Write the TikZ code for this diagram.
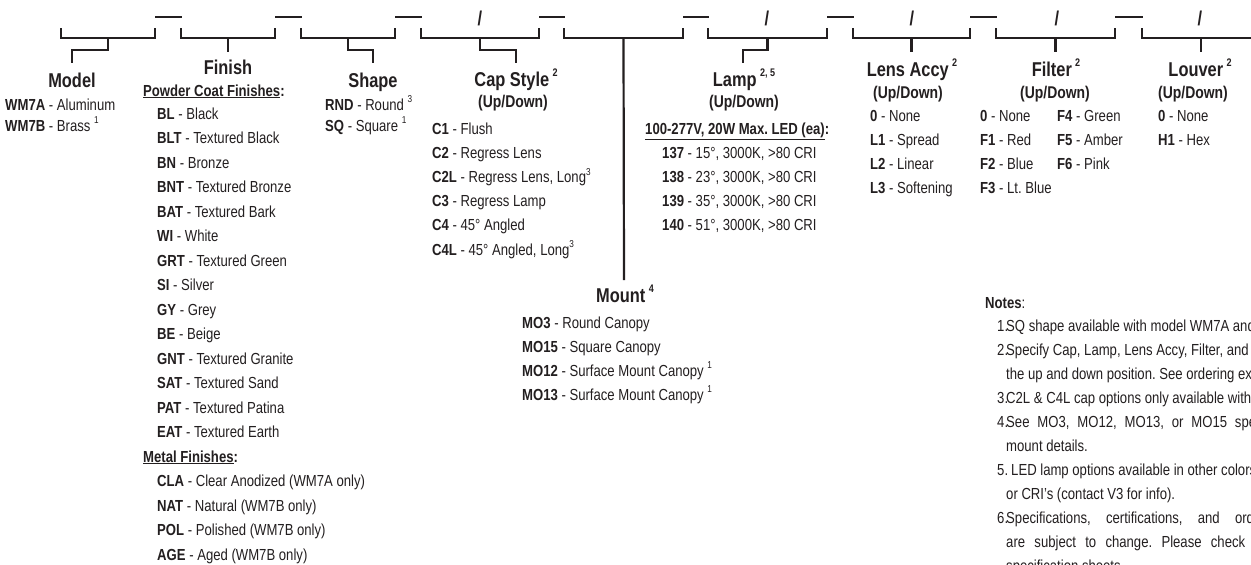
\documentclass[tikz,border=0pt]{standalone}
\usepackage{fontspec}
\setmainfont[FakeStretch=0.82]{Liberation Sans}
\definecolor{ink}{HTML}{231F20}
\newcommand{\supnum}[1]{\raisebox{0.45em}{\fontsize{10}{10}\selectfont\mdseries #1}}
\newcommand{\hsup}[1]{\raisebox{0.5em}{\fontsize{11}{11}\selectfont\bfseries #1}}
\newcommand{\itm}[2]{\textbf{#1} - #2}
\newcommand{\undl}[1]{\underline{#1}}
\frenchspacing
\begin{document}
\begin{tikzpicture}[x=1pt,y=-1pt,
  brk/.style={draw=ink, line width=2.6pt},
  sepline/.style={draw=ink, line width=2.6pt},
  stem/.style={draw=ink, line width=2.2pt},
  head/.style={font=\fontsize{20}{24}\selectfont\bfseries, text=ink, inner sep=0pt, anchor=base},
  updown/.style={font=\fontsize{17}{20}\selectfont\bfseries, text=ink, inner sep=0pt, anchor=base},
  item/.style={font=\fontsize{16}{20}\selectfont, text=ink, inner sep=0pt, anchor=base west},
  slashmark/.style={font=\fontsize{20}{20}\selectfont\bfseries, text=ink, inner sep=0pt}
]
\useasboundingbox (0,0) rectangle (1251,565);
\clip (0,0) rectangle (1251,565);
\fill[white] (0,0) rectangle (1251,565);

% brackets
\foreach \n/\a/\b in {1/61/155, 2/181/275, 3/301/395, 4/421/539, 5/564/683, 6/708/827, 7/853/970, 8/996/1115, 9/1142/1260} {
  \draw[brk] (\a,28) |- (\b,38) -- (\b,28);
  \coordinate (b\n) at ({(\a+\b)/2},38);
  \coordinate (L\n) at (\a+1,17);
  \coordinate (R\n) at (\b,17);
}
% separators
\draw[sepline] (R1) -- (L2);
\draw[sepline] (R2) -- (L3);
\draw[sepline] (R3) -- (L4);
\draw[sepline] (R4) -- (L5);
\draw[sepline] (R5) -- (L6);
\draw[sepline] (R6) -- (L7);
\draw[sepline] (R7) -- (L8);
\draw[sepline] (R8) -- (L9);
% slashes
\node[slashmark] (sl4) at (480,18) {/};
\node[slashmark] (sl6) at (767,18) {/};
\node[slashmark] (sl7) at (912,18) {/};
\node[slashmark] (sl8) at (1057,18) {/};
\node[slashmark] (sl9) at (1200,18) {/};

% stem ends
\coordinate (s1) at (72,63);
\coordinate (s2) at (228,52);
\coordinate (s3) at (373,63);
\coordinate (s4) at (516,63);
\coordinate (s5) at (624,280);
\coordinate (s6) at (743,63);
\coordinate (s7) at (911.5,52);
\coordinate (s8) at (1055.5,52);
\coordinate (s9) at (1201,52);
\draw[stem] (b1) -- ++(0,12) -| (s1);
\draw[stem] (b2) -- (s2);
\draw[stem] (b3) -- ++(0,12) -| (s3);
\draw[stem] (b4) -- ++(0,12) -| (s4);
\draw[stem] (b5) -- (s5);
\draw[stem] (b6) -- ++(0,12) -| (s6);
\draw[stem] (b7) -- (s7);
\draw[stem] (b8) -- (s8);
\draw[stem] (b9) -- (s9);

% headers
\node[head] (model)  at (72,87)  {Model};
\node[head] (finish) at (228,74) {Finish};
\node[head] (shape)  at (373,87) {Shape};
\node[head] (cap)    at (516,86) {Cap Style\,\hsup{2}};
\node[head] (mount)  at (625,302) {Mount\,\hsup{4}};
\node[head] (lamp)   at (744,86) {Lamp\,\hsup{2, 5}};
\node[head] (lens)   at (912,76) {Lens Accy\,\hsup{2}};
\node[head] (filter) at (1056,76) {Filter\,\hsup{2}};
\node[head] (louver) at (1200,76) {Louver\,\hsup{2}};

\node[updown] (capud)    at (513,107) {(Up/Down)};
\node[updown] (lampud)   at (744,107) {(Up/Down)};
\node[updown] (lensud)   at (908,98)  {(Up/Down)};
\node[updown] (filterud) at (1055,98) {(Up/Down)};
\node[updown] (louverud) at (1193,98) {(Up/Down)};

% Model
\node[item] (mo1) at (5,110) {\itm{WM7A}{Aluminum}};
\node[item] (mo2) at (5,131) {\itm{WM7B}{Brass \supnum{1}}};
% Shape
\node[item] (sh1) at (325,110) {\itm{RND}{Round \supnum{3}}};
\node[item] (sh2) at (325,131) {\itm{SQ}{Square \supnum{1}}};

% Finish
\node[item] (powder) at (143,96) {\textbf{\undl{Powder Coat Finishes}:}};
\foreach \c/\t [count=\i from 0] in {BL/Black, BLT/Textured Black, BN/Bronze, BNT/Textured Bronze, BAT/Textured Bark, WI/White, GRT/Textured Green, SI/Silver, GY/Grey, BE/Beige, GNT/Textured Granite, SAT/Textured Sand, PAT/Textured Patina, EAT/Textured Earth}
  \node[item] (fin\i) at (157,{119+24.5*\i}) {\itm{\c}{\t}};
\node[item] (metal) at (143,462) {\textbf{\undl{Metal Finishes}:}};
\foreach \c/\t [count=\i from 15] in {CLA/Clear Anodized (WM7A only), NAT/Natural (WM7B only), POL/Polished (WM7B only), AGE/Aged (WM7B only)}
  \node[item] (fin\i) at (157,{119+24.5*\i}) {\itm{\c}{\t}};

% Cap style
\foreach \c/\t [count=\i from 0] in {C1/Flush, C2/Regress Lens, C2L/{Regress Lens, Long\supnum{3}}, C3/Regress Lamp, C4/45° Angled, C4L/{45° Angled, Long\supnum{3}}}
  \node[item] (cap\i) at (432,{134+24.2*\i}) {\itm{\c}{\t}};

% Lamp
\node[item] (lamphd) at (645,134) {\textbf{\undl{100-277V, 20W Max. LED (ea)}:}};
\foreach \c/\t [count=\i from 1] in {137/{15°, 3000K, >80 CRI}, 138/{23°, 3000K, >80 CRI}, 139/{35°, 3000K, >80 CRI}, 140/{51°, 3000K, >80 CRI}}
  \node[item] (lamp\i) at (662,{134+24.2*\i}) {\itm{\c}{\t}};

% Lens
\foreach \c/\t [count=\i from 0] in {0/None, L1/Spread, L2/Linear, L3/Softening}
  \node[item] (lens\i) at (870,{121+24*\i}) {\itm{\c}{\t}};
% Filter
\foreach \c/\t [count=\i from 0] in {0/None, F1/Red, F2/Blue, F3/Lt. Blue}
  \node[item] (fa\i) at (980,{121+24*\i}) {\itm{\c}{\t}};
\foreach \c/\t [count=\i from 0] in {F4/Green, F5/Amber, F6/Pink}
  \node[item] (fb\i) at (1057,{121+24*\i}) {\itm{\c}{\t}};
% Louver
\foreach \c/\t [count=\i from 0] in {0/None, H1/Hex}
  \node[item] (lv\i) at (1158,{121+24*\i}) {\itm{\c}{\t}};

% Mount
\foreach \c/\t [count=\i from 1] in {MO3/Round Canopy, MO15/Square Canopy, MO12/Surface Mount Canopy \supnum{1}, MO13/Surface Mount Canopy \supnum{1}}
  \node[item] (mt\i) at (522,{304+24*\i}) {\itm{\c}{\t}};

% Notes
\node[item] (notes) at (985,308) {\textbf{Notes}:};
\node[item] (n1)  at (997,331) {1.};
\node[item] (n1a) at (1006,331) {SQ shape available with model WM7A and};
\node[item] (n2)  at (997,355) {2.};
\node[item] (n2a) at (1006,355) {Specify Cap, Lamp, Lens Accy, Filter, and};
\node[item] (n2b) at (1006,379) {the up and down position. See ordering example};
\node[item] (n3)  at (997,403) {3.};
\node[item] (n3a) at (1006,403) {C2L \& C4L cap options only available with};
\node[item] (n4)  at (997,427) {4.};
\node[item] (n4a) at (1006,427) {\makebox[301pt][s]{See MO3, MO12, MO13, or MO15 specification}};
\node[item] (n4b) at (1006,451) {mount details.};
\node[item] (n5)  at (997,475) {5.};
\node[item] (n5a) at (1011,475) {LED lamp options available in other colors};
\node[item] (n5b) at (1006,499) {or CRI’s (contact V3 for info).};
\node[item] (n6)  at (997,523) {6.};
\node[item] (n6a) at (1006,523) {\makebox[277pt][s]{Specifications, certifications, and ordering}};
\node[item] (n6b) at (1006,547) {\makebox[239pt][s]{are subject to change. Please check}};
\node[item] (n6c) at (1006,571) {specification sheets};
\end{tikzpicture}
\end{document}
